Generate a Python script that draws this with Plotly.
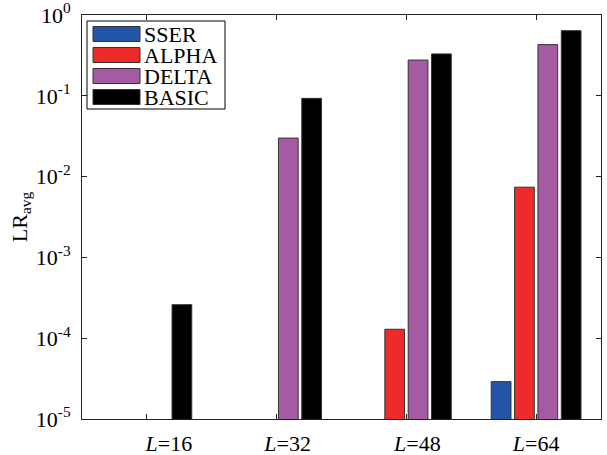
import plotly.graph_objects as go

categories = ["L=16", "L=32", "L=48", "L=64"]
x_ticktext = ["\u00a0" * 8 + "<i>L</i>=16", "\u00a0" * 4 + "<i>L</i>=32",
              "\u00a0" * 4 + "<i>L</i>=48", "<i>L</i>=64"]
series_names = ["SSER", "ALPHA", "DELTA", "BASIC"]
sser = [None, None, None, 2.9e-5]
alpha = [None, None, 1.29e-4, 7.4e-3]
delta = [None, 0.030, 0.277, 0.43]
basic = [2.6e-4, 0.093, 0.33, 0.64]
colors = ["#2356A8", "#EE2A2A", "#A45BA4", "#000000"]

y_tickvals = [1e-5, 1e-4, 1e-3, 1e-2, 1e-1, 1]
y_ticktext = ["10<sup>-5</sup>", "10<sup>-4</sup>", "10<sup>-3</sup>",
              "10<sup>-2</sup>", "10<sup>-1</sup>", "10<sup>0</sup>"]

FONT = "Liberation Serif"
FS = 22

fig = go.Figure()
for name, vals, col in zip(series_names, [sser, alpha, delta, basic], colors):
    fig.add_trace(go.Bar(
        x=categories, y=vals, name=name, showlegend=False,
        marker=dict(color=col, line=dict(color="#333333", width=1)),
    ))

# Manual legend (MATLAB style: wide swatches, tight rows)
L, R, T, B = 82, 601, 15, 419
W, H = R - L, B - T
px = lambda x: (x - L) / W
py = lambda y: (B - y) / H
shapes = [dict(type="rect", xref="paper", yref="paper",
               x0=px(87), x1=px(225), y0=py(109), y1=py(21),
               line=dict(color="black", width=1), fillcolor="white", layer="above")]
annotations = []
row_centers = [34, 55, 76, 97]
for name, col, cy in zip(series_names, colors, row_centers):
    shapes.append(dict(type="rect", xref="paper", yref="paper",
                       x0=px(93), x1=px(140), y0=py(cy + 7.5), y1=py(cy - 7.5),
                       line=dict(color="#333333", width=1), fillcolor=col, layer="above"))
    annotations.append(dict(xref="paper", yref="paper", x=px(142), y=py(cy + 0.5),
                            xanchor="left", yanchor="middle", text=name, showarrow=False,
                            font=dict(family=FONT, size=FS, color="black")))

fig.update_layout(
    width=607, height=455,
    margin=dict(l=L, r=607 - R, t=T, b=455 - B, autoexpand=False),
    paper_bgcolor="white", plot_bgcolor="white",
    font=dict(family=FONT, size=FS, color="black"),
    barmode="group", bargap=0.28, bargroupgap=0.155,
    showlegend=False,
    shapes=shapes, annotations=annotations,
)
fig.update_xaxes(
    showline=True, linecolor="#222222", linewidth=1, mirror="ticks",
    ticks="inside", ticklen=5, tickcolor="#222222",
    range=[-0.5, 3.5], showgrid=False, automargin=False,
    tickvals=categories, ticktext=x_ticktext,
    ticklabelstandoff=5, ticklabeloverflow="allow",
    tickfont=dict(family=FONT, size=FS),
)
fig.update_yaxes(
    type="log", range=[-5, 0],
    showline=True, linecolor="#222222", linewidth=1, mirror="ticks",
    ticks="inside", ticklen=5, tickcolor="#222222",
    tickvals=y_tickvals, ticktext=y_ticktext, showgrid=False, automargin=False,
    ticklabelstandoff=6, ticklabeloverflow="allow",
    tickfont=dict(family=FONT, size=FS),
    title=dict(text="LR<sub>avg</sub>", font=dict(family=FONT, size=FS), standoff=2),
)

fig.write_html("out.html")
